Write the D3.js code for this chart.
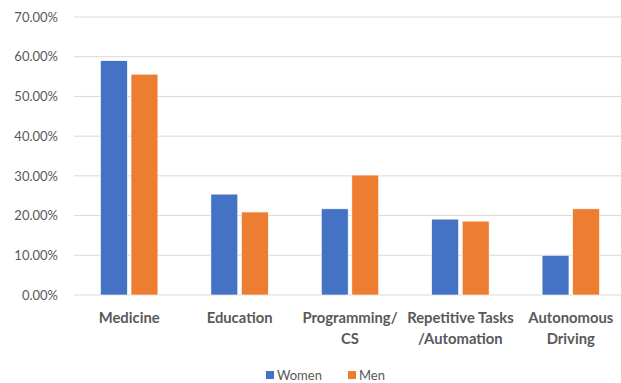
<!DOCTYPE html>
<html>
<head>
<meta charset="utf-8">
<script src="https://cdn.jsdelivr.net/npm/d3@7"></script>
<style>
  body { margin: 0; background: #fff; }
  text { font-family: Lato, "Liberation Sans", sans-serif; }
</style>
</head>
<body>
<svg class="chart" width="621" height="383"></svg>
<script>
var categories = [["Medicine"], ["Education"], ["Programming/", "CS"], ["Repetitive Tasks", "/Automation"], ["Autonomous", "Driving"]];
var series = ["Women", "Men"];
var women = [0.59, 0.254, 0.217, 0.191, 0.10];
var men = [0.556, 0.209, 0.302, 0.186, 0.217];
var yTicks = [0, 0.1, 0.2, 0.3, 0.4, 0.5, 0.6, 0.7];
var colors = ["#4472C4", "#ED7D31"];

var svg = d3.select(".chart");
var plotLeft = 74, plotRight = 626, plotTop = 17, plotBottom = 295;

var x = d3.scaleBand().domain(d3.range(categories.length)).range([plotLeft, plotRight]).paddingInner(0.48).paddingOuter(0.24);
var xs = d3.scaleBand().domain(series).range([0, x.bandwidth()]).paddingInner(0.12);
var y = d3.scaleLinear().domain([0, 0.7]).range([plotBottom, plotTop]);

// gridlines
svg.append("g").selectAll("line").data(yTicks).enter().append("line")
  .attr("x1", plotLeft).attr("x2", 621)
  .attr("y1", function(d) { return y(d); }).attr("y2", function(d) { return y(d); })
  .attr("stroke", "#d9d9d9").attr("stroke-width", 1);

// y labels
var yAxis = d3.axisLeft(y).tickValues(yTicks).tickFormat(d3.format(".2%")).tickSize(0).tickPadding(0);
var ya = svg.append("g").attr("transform", "translate(58,0)").call(yAxis);
ya.select(".domain").remove();
ya.selectAll("text").attr("fill", "#595959").attr("font-size", 13).attr("font-family", "Lato, sans-serif");

// bars
var data = [women, men];
var groups = svg.append("g").selectAll("g").data(series).enter().append("g").attr("fill", function(d, i) { return colors[i]; });
groups.selectAll("rect").data(function(s, i) { return data[i].map(function(v, j) { return { s: s, v: v, j: j }; }); })
  .enter().append("rect")
  .attr("x", function(d) { return x(d.j) + xs(d.s); })
  .attr("width", xs.bandwidth())
  .attr("y", function(d) { return y(d.v); })
  .attr("height", function(d) { return y(0) - y(d.v); })
  .attr("stroke", "#ffffff").attr("stroke-width", 0.6);

// category labels
var cl = svg.append("g").selectAll("text").data(categories).enter().append("text")
  .attr("x", function(d, i) { return x(i) + x.bandwidth() / 2; })
  .attr("y", 323)
  .attr("text-anchor", "middle").attr("font-size", 14.8).attr("font-weight", "bold").attr("fill", "#595959");
cl.selectAll("tspan").data(function(d) { return d; }).enter().append("tspan")
  .attr("x", function() { return d3.select(this.parentNode).attr("x"); })
  .attr("dy", function(d, i) { return i == 0 ? 0 : 21; })
  .text(function(d) { return d; });

// legend
var legX = [266, 348];
var lg = svg.append("g").selectAll("g").data(series).enter().append("g")
  .attr("transform", function(d, i) { return "translate(" + legX[i] + ",371)"; });
lg.append("rect").attr("width", 8).attr("height", 8).attr("fill", function(d, i) { return colors[i]; });
lg.append("text").attr("x", 11).attr("y", 8.5).attr("font-size", 13).attr("fill", "#595959").text(function(d) { return d; });
</script>
</body>
</html>
